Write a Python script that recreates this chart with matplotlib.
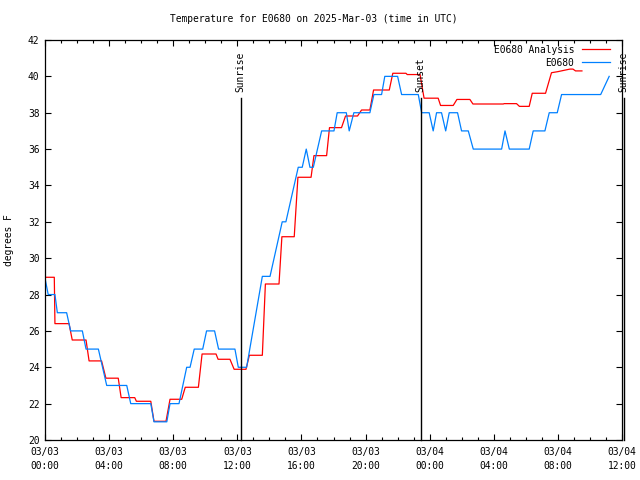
import pandas as pd
import matplotlib
matplotlib.use('Agg')
import matplotlib.pyplot as plt
import matplotlib.dates as mdates
from matplotlib.ticker import MultipleLocator

plt.rcParams['font.family'] = 'DejaVu Sans Mono'
plt.rcParams['font.size'] = 6.9

inicio = pd.Timestamp('2025-03-03 00:00')

# E0680 Analysis (vermelho) - horas desde 03/03 00:00 UTC
horas_analise = [0, 0.58, 0.62, 1.5, 1.7, 2.56, 2.75, 3.53, 3.8, 4.57,
                 4.75, 5.6, 5.7, 6.6, 6.8, 7.55, 7.8, 8.53, 8.75, 9.57,
                 9.8, 10.67, 10.8, 11.54, 11.8, 12.54, 12.75, 13.56, 13.75, 14.6,
                 14.78, 15.55, 15.78, 16.6, 16.78, 17.57, 17.75, 18.5, 18.75, 19.5,
                 19.75, 20.27, 20.5, 21.48, 21.7, 22.52, 22.6, 23.4, 23.65, 24.53,
                 24.68, 25.47, 25.7, 26.51, 26.7, 28.59, 28.65, 29.42, 29.6, 30.21,
                 30.4, 31.23, 31.6, 32.0, 32.75, 32.94, 33.1, 33.5]
temp_analise = [28.95, 28.95, 26.4, 26.4, 25.5, 25.5, 24.35, 24.35, 23.4, 23.4,
                22.33, 22.33, 22.13, 22.13, 21.03, 21.03, 22.24, 22.24, 22.9, 22.9,
                24.73, 24.73, 24.44, 24.44, 23.89, 23.89, 24.66, 24.66, 28.58, 28.58,
                31.18, 31.18, 34.45, 34.45, 35.64, 35.64, 37.18, 37.18, 37.82, 37.82,
                38.15, 38.15, 39.25, 39.25, 40.17, 40.17, 40.1, 40.1, 38.8, 38.8,
                38.4, 38.4, 38.73, 38.73, 38.48, 38.48, 38.5, 38.5, 38.35, 38.35,
                39.07, 39.07, 40.2, 40.26, 40.4, 40.4, 40.3, 40.3]

# E0680 observado (azul)
horas_obs = [0, 0.2, 0.62, 0.77, 1.35, 1.6, 2.33, 2.56, 3.33, 3.85,
             5.1, 5.35, 6.6, 6.8, 7.6, 7.8, 8.36, 8.84, 9.05, 9.31,
             9.84, 10.08, 10.58, 10.83, 11.85, 12.06, 12.58, 13.56, 14.04, 14.8,
             15.03, 15.8, 16.05, 16.3, 16.53, 16.74, 17.26, 18.03, 18.23, 18.8,
             18.98, 19.27, 20.27, 20.52, 21.0, 21.2, 22.0, 22.25, 23.29, 23.5,
             23.97, 24.22, 24.43, 24.74, 25.0, 25.22, 25.74, 25.99, 26.41, 26.72,
             28.49, 28.7, 28.97, 30.21, 30.46, 31.19, 31.46, 31.96, 32.23, 34.67,
             35.2]
temp_obs = [28.9, 28.0, 28.0, 27.0, 27.0, 26.0, 26.0, 25.0, 25.0, 23.0,
            23.0, 22.0, 22.0, 21.0, 21.0, 22.0, 22.0, 24.0, 24.0, 25.0,
            25.0, 26.0, 26.0, 25.0, 25.0, 24.0, 24.0, 29.0, 29.0, 32.0,
            32.0, 35.0, 35.0, 36.0, 35.0, 35.0, 37.0, 37.0, 38.0, 38.0,
            37.0, 38.0, 38.0, 39.0, 39.0, 40.0, 40.0, 39.0, 39.0, 38.0,
            38.0, 37.0, 38.0, 38.0, 37.0, 38.0, 38.0, 37.0, 37.0, 36.0,
            36.0, 37.0, 36.0, 36.0, 37.0, 37.0, 38.0, 38.0, 39.0, 39.0,
            40.0]

# Nascer / por do sol
horas_sol = [12.2, 23.45, 36.1]
nomes_sol = ['Sunrise', 'Sunset', 'Sunrise']

t_analise = [inicio + pd.Timedelta(hours=h) for h in horas_analise]
t_obs = [inicio + pd.Timedelta(hours=h) for h in horas_obs]
t_sol = [inicio + pd.Timedelta(hours=h) for h in horas_sol]

fig = plt.figure(figsize=(6.4, 4.8), dpi=100)
ax = fig.add_axes([45 / 640, 40 / 480, 577 / 640, 400 / 480])

ax.plot(t_analise, temp_analise, color='#ff0000', lw=0.9)
ax.plot(t_obs, temp_obs, color='#0080ff', lw=0.9)

for t, nome in zip(t_sol, nomes_sol):
    ax.plot([t, t], [0, 0.855], color='black', lw=1.0,
            transform=ax.get_xaxis_transform(), clip_on=False)
    ax.text(t, 0.87, nome, rotation=90, ha='center', va='bottom',
            transform=ax.get_xaxis_transform(), clip_on=False)

ax.set_xlim(inicio, inicio + pd.Timedelta(hours=36))
ax.set_ylim(20, 42)
ax.yaxis.set_major_locator(MultipleLocator(2))
ax.xaxis.set_major_locator(mdates.HourLocator(byhour=[0, 4, 8, 12, 16, 20]))
ax.xaxis.set_minor_locator(mdates.HourLocator())
ax.xaxis.set_major_formatter(mdates.DateFormatter('%m/%d\n%H:%M'))
ax.tick_params(which='both', direction='in', top=True, right=True, width=0.8)
ax.tick_params(which='major', length=4.3)
ax.tick_params(axis='x', which='major', pad=5)
ax.tick_params(axis='y', which='major', pad=4)
ax.tick_params(which='minor', length=2.2)
fig.canvas.draw()
for lbl in ax.get_xticklabels():
    lbl.set_linespacing(1.5)
for s in ax.spines.values():
    s.set_linewidth(0.9)

ax.set_ylabel('degrees F', labelpad=10)
fig.text(0.491, 0.96, 'Temperature for E0680 on 2025-Mar-03 (time in UTC)',
         ha='center', va='center')

# legenda no estilo gnuplot
fig.text(574 / 640, 1 - 50 / 480, 'E0680 Analysis', ha='right', va='center')
fig.text(574 / 640, 1 - 63 / 480, 'E0680', ha='right', va='center')
fig.add_artist(plt.Line2D([582 / 640, 610 / 640], [1 - 49.3 / 480] * 2, color='#ff0000', lw=0.9))
fig.add_artist(plt.Line2D([582 / 640, 610 / 640], [1 - 62.3 / 480] * 2, color='#0080ff', lw=0.9))

fig.savefig('out.png', dpi=100)
